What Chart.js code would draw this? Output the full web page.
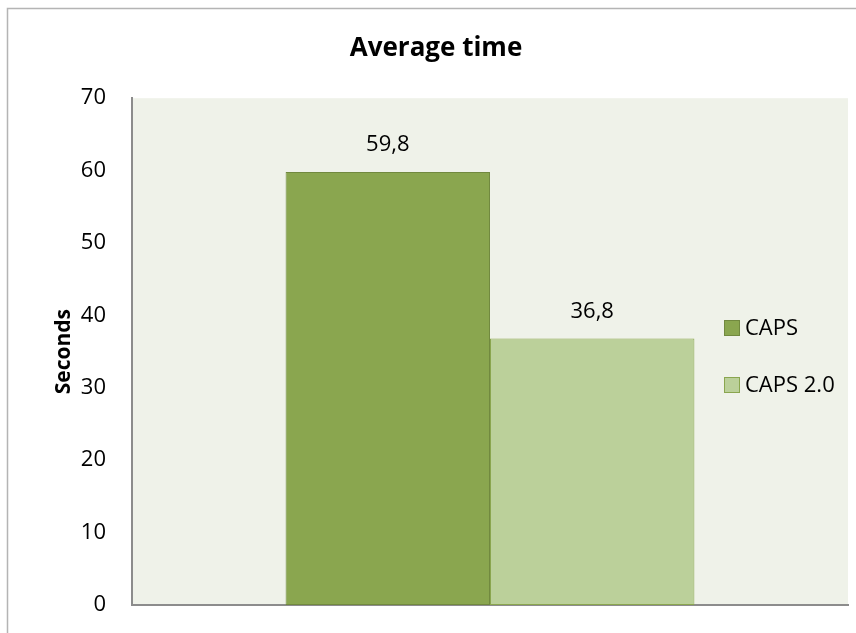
<!DOCTYPE html>
<html>
<head>
<meta charset="utf-8">
<script src="https://cdn.jsdelivr.net/npm/chart.js@4.4.1/dist/chart.umd.min.js"></script>
<style>
  html, body { margin: 0; padding: 0; background: #ffffff; }
  #wrap { width: 856px; height: 633px; }
</style>
</head>
<body>
<div id="wrap"><canvas id="myChart" width="856" height="633"></canvas></div>
<script>
const categories = [''];
const seriesNames = ['CAPS', 'CAPS 2.0'];
const capsValues = [59.8];
const caps2Values = [36.8];
const yTicks = [0, 10, 20, 30, 40, 50, 60, 70];

const FONT = "'Open Sans', 'Liberation Sans', sans-serif";

// frame round the figure, plot background, bar labels and legend (Excel style)
const decor = {
  id: 'decor',
  beforeDraw(chart) {
    const c = chart.ctx;
    const a = chart.chartArea;
    c.save();
    c.fillStyle = '#ffffff';
    c.fillRect(0, 0, chart.width, chart.height);
    c.strokeStyle = '#b4b4b4';
    c.lineWidth = 1.5;
    c.strokeRect(7.5, 8.5, chart.width + 20, chart.height + 20);
    c.fillStyle = '#eff2e9';
    c.fillRect(a.left, a.top, a.right - a.left, a.bottom - a.top);
    c.restore();
  },
  afterDatasetsDraw(chart) {
    const c = chart.ctx;
    c.save();
    c.font = '22px ' + FONT;
    c.fillStyle = '#000000';
    c.textAlign = 'center';
    c.textBaseline = 'middle';
    chart.data.datasets.forEach(function (ds, i) {
      chart.getDatasetMeta(i).data.forEach(function (bar, j) {
        const txt = ds.data[j].toFixed(1).replace('.', ',');
        c.fillText(txt, bar.x, bar.y - 27);
      });
    });

    // legend
    const lx = 724;
    const ly = [328, 385];
    c.textAlign = 'left';
    chart.data.datasets.forEach(function (ds, i) {
      c.fillStyle = ds.backgroundColor;
      c.fillRect(lx, ly[i] - 8, 16, 16);
      c.strokeStyle = ds.borderColor;
      c.lineWidth = 1;
      c.strokeRect(lx + 0.5, ly[i] - 7.5, 15, 15);
      c.fillStyle = '#000000';
      c.fillText(ds.label, lx + 21, ly[i] + 1);
    });
    c.restore();
  }
};

const ctx = document.getElementById('myChart');

const myChart = new Chart(ctx, {
  type: 'bar',
  data: {
    labels: categories,
    datasets: [
      {
        label: seriesNames[0],
        data: capsValues,
        backgroundColor: '#8aa64f',
        borderColor: '#71893f',
        borderWidth: 1,
        borderSkipped: false
      },
      {
        label: seriesNames[1],
        data: caps2Values,
        backgroundColor: '#bbd09a',
        borderColor: '#8aa64f',
        borderWidth: 1,
        borderSkipped: false
      }
    ]
  },
  options: {
    responsive: false,
    animation: false,
    devicePixelRatio: 1,
    layout: {
      padding: { left: 24, right: 8, top: 8, bottom: 0 }
    },
    datasets: {
      bar: {
        categoryPercentage: 0.571,
        barPercentage: 1
      }
    },
    scales: {
      x: {
        grid: { display: false, drawTicks: false },
        ticks: { display: false },
        border: { display: true, color: '#8c8c8c', width: 2 },
        afterFit: function (scale) { scale.height = 28; }
      },
      y: {
        min: 0,
        max: 70,
        afterBuildTicks: function (scale) {
          scale.ticks = yTicks.map(function (v) { return { value: v }; });
        },
        grid: { display: false, drawTicks: false },
        border: { display: true, color: '#8c8c8c', width: 2 },
        ticks: {
          padding: 26,
          color: '#000000',
          font: { family: FONT, size: 22 }
        },
        title: {
          display: true,
          text: 'Seconds',
          color: '#000000',
          font: { family: FONT, size: 21, weight: 'bold' },
          padding: { top: 27, bottom: 0 }
        },
        afterFit: function (scale) {
          scale.width = 108;
          // tick padding would otherwise push the plot bottom up
          scale.paddingTop = 0;
          scale.paddingBottom = 0;
        }
      }
    },
    plugins: {
      legend: { display: false },
      tooltip: { enabled: false },
      title: {
        display: true,
        text: 'Average time',
        color: '#000000',
        font: { family: FONT, size: 26, weight: 'bold' },
        padding: { top: 25, bottom: 34 }
      }
    }
  },
  plugins: [decor]
});
</script>
</body>
</html>
